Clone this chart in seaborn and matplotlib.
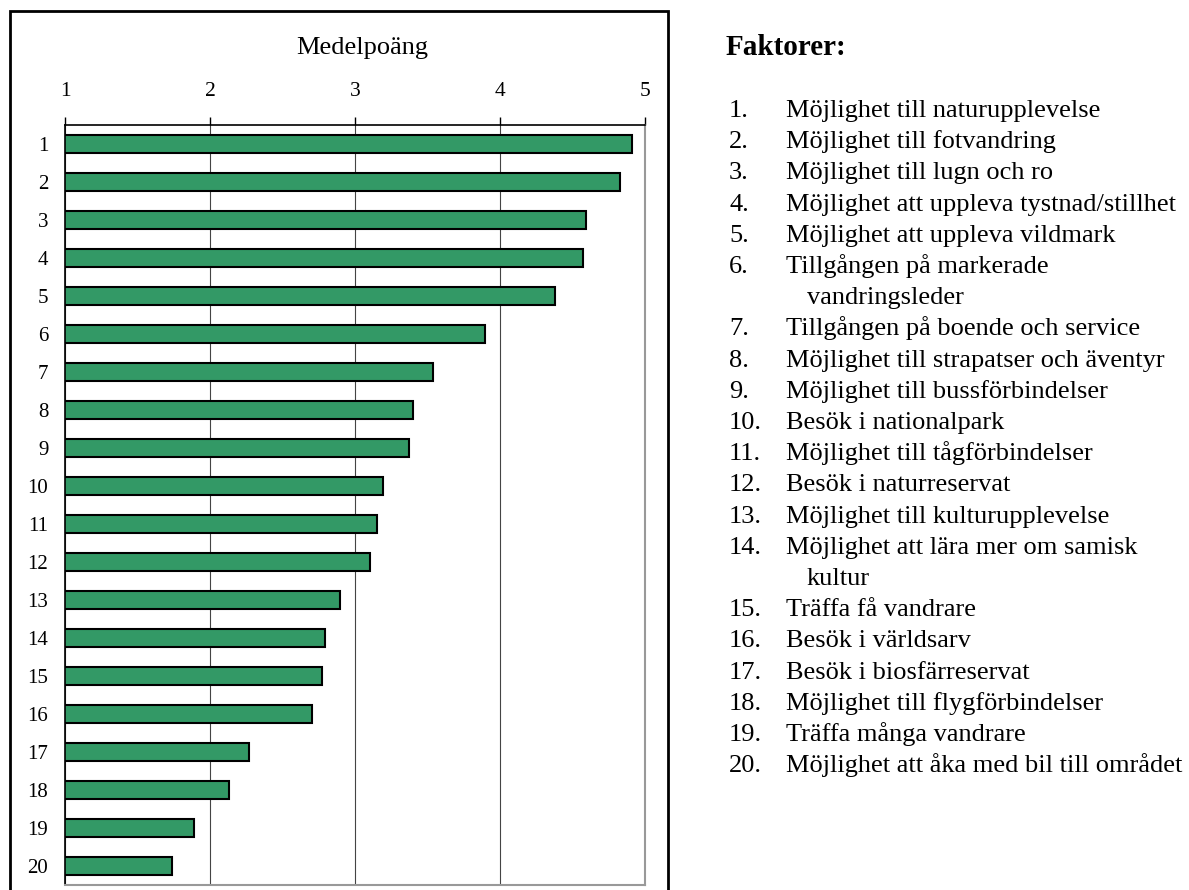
import numpy as np
import matplotlib
matplotlib.use('Agg')
import matplotlib.pyplot as plt
from matplotlib.patches import Rectangle
import seaborn as sns
import pandas as pd

#%% data
faktor_nr = [str(i) for i in range(1, 21)]
medelpoang = [4.91, 4.83, 4.59, 4.57, 4.38, 3.90, 3.54, 3.40, 3.37, 3.19,
              3.15, 3.10, 2.90, 2.79, 2.77, 2.70, 2.27, 2.13, 1.89, 1.74]
x_ticks = [1, 2, 3, 4, 5]
faktorer = ['Möjlighet till naturupplevelse',
            'Möjlighet till fotvandring',
            'Möjlighet till lugn och ro',
            'Möjlighet att uppleva tystnad/stillhet',
            'Möjlighet att uppleva vildmark',
            'Tillgången på markerade\nvandringsleder',
            'Tillgången på boende och service',
            'Möjlighet till strapatser och äventyr',
            'Möjlighet till bussförbindelser',
            'Besök i nationalpark',
            'Möjlighet till tågförbindelser',
            'Besök i naturreservat',
            'Möjlighet till kulturupplevelse',
            'Möjlighet att lära mer om samisk\nkultur',
            'Träffa få vandrare',
            'Besök i världsarv',
            'Besök i biosfärreservat',
            'Möjlighet till flygförbindelser',
            'Träffa många vandrare',
            'Möjlighet att åka med bil till området']

df = pd.DataFrame({'nr': faktor_nr, 'medel': medelpoang})

#%% figure
sns.set_style('white')
plt.rcParams['font.family'] = ['Liberation Serif', 'DejaVu Serif']
plt.rcParams['text.color'] = 'black'
plt.rcParams['xtick.color'] = 'black'
plt.rcParams['ytick.color'] = 'black'
plt.rcParams['axes.labelcolor'] = 'black'

W, H = 1189, 890
fig = plt.figure(figsize=(W / 100, H / 100), dpi=100)
ax = fig.add_axes([65 / W, 1 - 885 / H, (645 - 65) / W, (885 - 125) / H])

sns.barplot(data=df, x='medel', y='nr', orient='h', color='#339966',
            saturation=1, edgecolor='black', linewidth=1.5, width=0.45, ax=ax)

ax.set_xlim(1, 5)
ax.set_ylim(19.5, -0.5)
ax.xaxis.tick_top()
ax.set_xticks(x_ticks)
ax.set_xticklabels([str(t) for t in x_ticks], fontsize=15.5)
ax.tick_params(axis='x', direction='out', length=6, width=1, pad=11, color='black')
ax.tick_params(axis='y', which='major', length=0, pad=12, labelsize=15)
ax.set_yticks(np.arange(-0.5, 20, 1), minor=True)
ax.tick_params(axis='y', which='minor', direction='out', length=6, width=1, color='black')
ax.set_xlabel('')
ax.set_ylabel('')
ax.grid(axis='x', color='#444444', linewidth=0.8)
ax.set_axisbelow(True)
for side in ['top', 'left']:
    ax.spines[side].set_color('black')
    ax.spines[side].set_linewidth(1.2)
for side in ['right', 'bottom']:
    ax.spines[side].set_visible(True)
    ax.spines[side].set_color('#999999')
    ax.spines[side].set_linewidth(1.5)

fig.text(362 / W, 1 - 48 / H, 'Medelpoäng', ha='center', va='center', fontsize=19)

# ram runt diagrammet
fig.add_artist(Rectangle((10 / W, -0.02), (668 - 10) / W, 1 - 11 / H + 0.02,
                         transform=fig.transFigure, fill=False,
                         edgecolor='black', linewidth=2))

#%% faktorlista
fig.text(726 / W, 1 - 55 / H, 'Faktorer:', ha='left', va='baseline',
         fontsize=21, fontweight='bold')
y = 109
for i, namn in enumerate(faktorer):
    fig.text(729 / W, 1 - (y + 8) / H, '%d.' % (i + 1), ha='left', va='baseline', fontsize=19)
    for j, rad in enumerate(namn.split('\n')):
        x0 = 786 if j == 0 else 807
        fig.text(x0 / W, 1 - (y + 8) / H, rad, ha='left', va='baseline', fontsize=19)
        y += 31.2

fig.savefig('out.png', dpi=100)
